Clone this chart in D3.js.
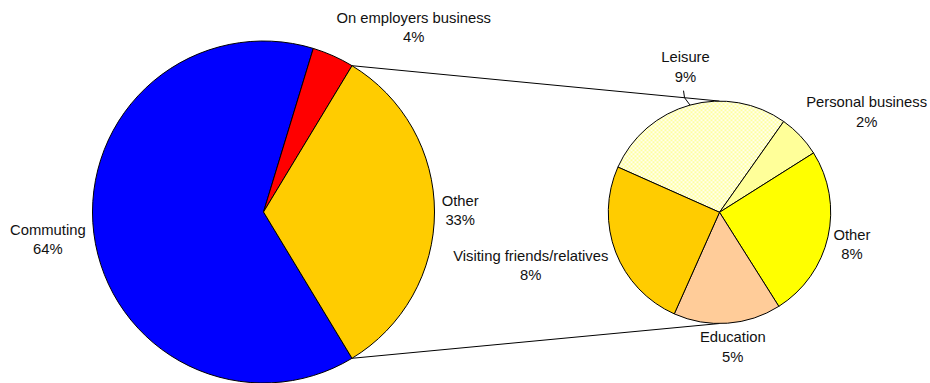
<!DOCTYPE html>
<html>
<head>
<meta charset="utf-8">
<script src="https://cdn.jsdelivr.net/npm/d3@7"></script>
<style>
  body { margin: 0; background: #fff; }
  text { font-family: "Liberation Sans", Arial, sans-serif; font-size: 14.8px; fill: #111; }
</style>
</head>
<body>
<svg id="chart" width="930" height="383"></svg>
<script>
// Journey purpose shares (%), main pie
const mainCategories = ["Commuting", "On employers business", "Other"];
const mainValues = [64, 4, 33];
const mainColors = ["#0000FF", "#FF0000", "#FFCC00"];

// Breakdown of "Other" (%), secondary pie
const otherCategories = ["Leisure", "Personal business", "Other", "Education", "Visiting friends/relatives"];
const otherValues = [9, 2, 8, 5, 8];
const otherColors = ["url(#trellis)", "#FFFF99", "#FFFF00", "#FFCC99", "#FFCC00"];

// Layout
const mainPie = { cx: 263.5, cy: 212, r: 171 };
const subPie = { cx: 719.5, cy: 212.3, r: 111.2, startDeg: 294 };
const lineGap = 19.2;
// label offsets [dx, dy] from the slice's outer mid point (dy to first baseline)
const mainLabelOffsets = [[-46, 2], [80.5, -33], [25.7, -6]];
const otherLabelOffsets = [[-4.5, -42.6], [66.5, -28.4], [24, 3.2], [5.3, 19.1], [-84.9, 8.5]];

const svg = d3.select("#chart");

// trellis fill for the Leisure slice
const pat = svg.append("defs").append("pattern")
  .attr("id", "trellis").attr("width", 4).attr("height", 4)
  .attr("patternUnits", "userSpaceOnUse");
pat.append("rect").attr("width", 4).attr("height", 4).attr("fill", "#FFFFF0");
[[0,0],[1,1],[2,2],[3,3],[0,3],[1,2],[2,1],[3,0]].forEach(([x, y]) =>
  pat.append("rect").attr("x", x).attr("y", y).attr("width", 1).attr("height", 1).attr("fill", "#FFFF9E"));

const rad = Math.PI / 180;
const total = d3.sum(mainValues);
const otherIdx = mainCategories.indexOf("Other");
// rotate main pie so the "Other" slice faces the secondary pie (centred at 3 o'clock)
const before = d3.sum(mainValues.slice(0, otherIdx));
const mainStart = Math.PI / 2 - (before + mainValues[otherIdx] / 2) / total * 2 * Math.PI;

const mainArcs = d3.pie().sort(null).value(d => d)
  .startAngle(mainStart).endAngle(mainStart + 2 * Math.PI)(mainValues);
const subStart = subPie.startDeg * rad;
const subArcs = d3.pie().sort(null).value(d => d)
  .startAngle(subStart).endAngle(subStart + 2 * Math.PI)(otherValues);

const pt = (p, a, r) => [p.cx + r * Math.sin(a), p.cy - r * Math.cos(a)];

// connector lines between the pies
const oArc = mainArcs[otherIdx];
const top1 = pt(mainPie, oArc.startAngle, mainPie.r);
const bot1 = pt(mainPie, oArc.endAngle, mainPie.r);
svg.append("line").attr("x1", top1[0]).attr("y1", top1[1])
  .attr("x2", subPie.cx).attr("y2", subPie.cy - subPie.r)
  .attr("stroke", "#000").attr("stroke-width", 1);
svg.append("line").attr("x1", bot1[0]).attr("y1", bot1[1])
  .attr("x2", subPie.cx).attr("y2", subPie.cy + subPie.r)
  .attr("stroke", "#000").attr("stroke-width", 1);

function drawPie(p, arcs, colors) {
  const arc = d3.arc().innerRadius(0).outerRadius(p.r);
  svg.append("g").attr("transform", `translate(${p.cx},${p.cy})`)
    .selectAll("path").data(arcs).join("path")
    .attr("d", arc)
    .attr("fill", (d, i) => colors[i])
    .attr("stroke", "#000").attr("stroke-width", 1)
    .attr("stroke-linejoin", "round");
}
drawPie(mainPie, mainArcs, mainColors);
drawPie(subPie, subArcs, otherColors);

function drawLabels(p, arcs, names, values, offsets) {
  const out = [];
  arcs.forEach((a, i) => {
    const mid = (a.startAngle + a.endAngle) / 2;
    const [ax, ay] = pt(p, mid, p.r);
    const x = ax + offsets[i][0], y = ay + offsets[i][1];
    const t = svg.append("text").attr("text-anchor", "middle");
    t.append("tspan").attr("x", x).attr("y", y).text(names[i]);
    t.append("tspan").attr("x", x).attr("y", y + lineGap).text(values[i] + "%");
    out.push({ x, y, ax, ay });
  });
  return out;
}
drawLabels(mainPie, mainArcs, mainCategories, mainValues, mainLabelOffsets);
const subLabels = drawLabels(subPie, subArcs, otherCategories, otherValues, otherLabelOffsets);

// leader line for the Leisure label
const lz = subLabels[0];
svg.append("polyline")
  .attr("points", [[lz.x - 2, lz.y + lineGap + 9], [lz.x - 1, lz.y + lineGap + 16], [lz.ax, lz.ay]].map(d => d.join(",")).join(" "))
  .attr("fill", "none").attr("stroke", "#000").attr("stroke-width", 1);
</script>
</body>
</html>
